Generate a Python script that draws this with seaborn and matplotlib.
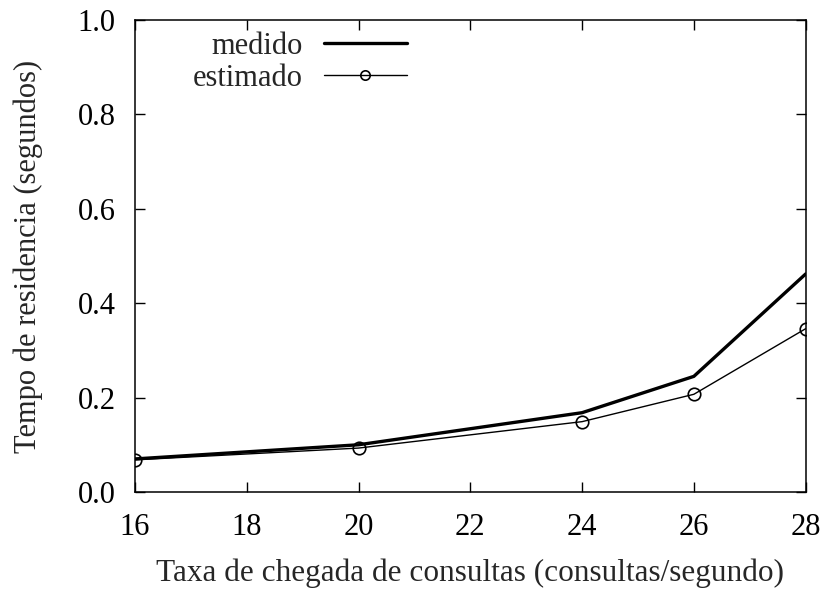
import matplotlib
matplotlib.use("Agg")
import matplotlib.pyplot as plt
import seaborn as sns
import pandas as pd

taxa = [16, 20, 24, 26, 28]
medido = [0.070, 0.100, 0.168, 0.245, 0.462]
estimado = [0.068, 0.093, 0.149, 0.207, 0.346]

xticks = [16, 18, 20, 22, 24, 26, 28]
yticks = [0.0, 0.2, 0.4, 0.6, 0.8, 1.0]

sns.set_style("ticks")
plt.rcParams["font.family"] = ["Liberation Serif", "DejaVu Serif"]

df = pd.DataFrame({"taxa": taxa, "medido": medido, "estimado": estimado})

fig = plt.figure(figsize=(8.28, 5.92), dpi=100)
ax = fig.add_axes([0.163, 0.169, 0.810, 0.797])

sns.lineplot(data=df, x="taxa", y="medido", ax=ax, color="black",
             linewidth=2.4, label="medido")
sns.lineplot(data=df, x="taxa", y="estimado", ax=ax, color="black",
             linewidth=1.0, marker="o", markersize=9, markerfacecolor="none",
             markeredgecolor="black", markeredgewidth=1.2, label="estimado")

ax.set_xlim(16, 28)
ax.set_ylim(0, 1.0)
ax.set_xticks(xticks)
ax.set_yticks(yticks)
ax.set_xticklabels([str(t) for t in xticks])
ax.set_yticklabels([f"{t:.1f}" for t in yticks])
ax.tick_params(direction="in", length=7, width=1, top=True, right=True,
               labelsize=22, colors="black")
ax.tick_params(axis="x", pad=15)
ax.tick_params(axis="y", pad=14)
for s in ax.spines.values():
    s.set_visible(True)
    s.set_linewidth(1.1)
    s.set_color("black")

ax.set_xlabel("Taxa de chegada de consultas (consultas/segundo)", fontsize=22.5, labelpad=12)
ax.set_ylabel("Tempo de residencia (segundos)", fontsize=22, labelpad=25)

leg = ax.legend(loc="upper left", bbox_to_anchor=(0.045, 1.033), frameon=False,
                markerfirst=False, handlelength=2.7, handletextpad=0.7,
                labelspacing=0.1, fontsize=22, numpoints=1, markerscale=0.75)

fig.savefig("out.png", dpi=100)
